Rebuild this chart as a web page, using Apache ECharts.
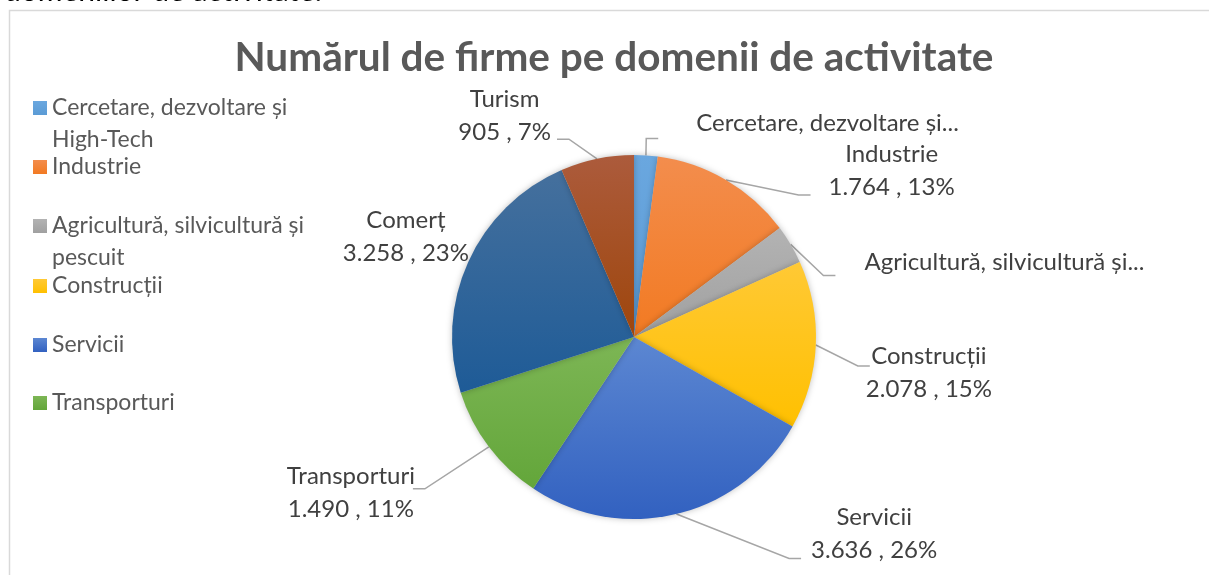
<!DOCTYPE html>
<html><head><meta charset="utf-8">
<script src="https://cdn.jsdelivr.net/npm/echarts@6/dist/echarts.min.js"></script>
<style>html,body{margin:0;padding:0;background:#fff;overflow:hidden}#c{width:1209px;height:575px}</style>
</head><body><div id="c"></div>
<script>
// ---- data ----
const categories = ['Cercetare, dezvoltare și High-Tech', 'Industrie', 'Agricultură, silvicultură și pescuit', 'Construcții', 'Servicii', 'Transporturi', 'Comerț', 'Turism'];
const values = [290, 1764, 480, 2078, 3636, 1490, 3258, 905];
const legendCategories = categories.slice(0, 6);
const titleText = 'Numărul de firme pe domenii de activitate';

// ---- style ----
const colorTop = ['#6AA7DF', '#F38D4D', '#B3B3B3', '#FFC935', '#5C87D2', '#7DB655', '#45709D', '#AC5B3C'];
const colorBottom = ['#5B9BD5', '#F27A22', '#A0A0A0', '#FFC000', '#3261C0', '#63A63A', '#1E5B97', '#9E460C'];
const labelShift = [[30, -12], [45, -16], [40, 24], [16, 27], [111, 0], [-39, 34], [38, -17], [-23, -23]];
const lineEnd = [[38, 15], [18, 24], [29, 13], [-4, -7], [10, 25], [-2, -4], [0, 0], [6, 23]]; // [gap to label edge, dy from label centre]
const showLine = [true, true, true, true, true, true, false, true];
const legendCenters = [108, 167, 226, 286, 345, 403];
const FONT = 'Lato';

function fmtNum(v) { return String(v).replace(/\B(?=(\d{3})+(?!\d))/g, '.'); }
function wrapName(n) { const i = n.lastIndexOf(' și '); return (n.length > 22 && i > 0) ? [n.slice(0, i + 3), n.slice(i + 4)] : [n]; }

const chart = echarts.init(document.getElementById('c'), null, { renderer: 'canvas' });

const legends = legendCategories.map((name, i) => {
  const multi = wrapName(name).length > 1;
  return {
    data: [name], left: 33, top: legendCenters[i] - (multi ? 48 : 16), orient: 'vertical', padding: 0,
    itemWidth: 14, itemHeight: 14, itemGap: 0, icon: 'rect', selectedMode: false,
    formatter: n => { const l = wrapName(n); return l.length > 1 ? '{sp| }\n{a|' + l[0] + '}\n{a|' + l[1] + '}' : '{a|' + l[0] + '}'; },
    textStyle: { fontFamily: FONT, fontSize: 23, color: '#595959', lineHeight: 32,
      rich: { sp: { fontSize: 23, lineHeight: 32, height: 32 }, a: { fontFamily: FONT, fontSize: 23, color: '#595959', lineHeight: 32 } } }
  };
});

const data = categories.map((name, i) => ({
  name, value: values[i],
  labelLine: { show: showLine[i] },
  itemStyle: { color: new echarts.graphic.LinearGradient(0, 0, 0, 1, [
    { offset: 0, color: colorTop[i] }, { offset: 1, color: colorBottom[i] }]) }
}));

chart.setOption({
  animation: false,
  title: { text: titleText, left: 609, top: 32, textAlign: 'center',
    textStyle: { fontFamily: FONT, fontWeight: 'bold', fontSize: 40.5, color: '#595959' } },
  legend: legends,
  graphic: [
    { type: 'rect', shape: { x: 9.5, y: 10.5, width: 1400, height: 700 }, style: { fill: 'none', stroke: '#D9D9D9', lineWidth: 1.5 }, silent: true },
    { type: 'text', x: 4, y: 6, style: { text: 'domeniilor de activitate.', fontFamily: FONT, fontSize: 30, fill: '#000', verticalAlign: 'bottom' }, silent: true }
  ],
  series: [{
    type: 'pie', center: [634, 337], radius: 182, startAngle: 90, clockwise: true,
    data,
    itemStyle: { shadowBlur: 6, shadowColor: 'rgba(0,0,0,0.25)' },
    label: {
      show: true, position: 'outside', fontFamily: FONT, fontSize: 24, color: '#404040', lineHeight: 33,
      formatter: p => {
        if (p.percent < 5) return '{a|' + wrapName(p.name)[0] + '...}';
        return '{a|' + p.name + '}\n{a|' + fmtNum(p.value) + ' , ' + Math.round(p.percent) + '%}';
      },
      rich: { a: { align: 'center', fontFamily: FONT, fontSize: 24, color: '#404040', lineHeight: 33 } }
    },
    labelLine: { show: true, length: 20, length2: 14, lineStyle: { color: '#A6A6A6', width: 1.5 } },
    labelLayout: p => {
      const i = p.dataIndex, s = labelShift[i], e = lineEnd[i];
      const r = p.labelRect, pts = p.labelLinePoints;
      const out = { dx: s[0], dy: s[1] };
      if (pts && pts.length && showLine[i]) {
        const x = r.x + s[0], y = r.y + s[1];
        const p0 = pts[0];
        const right = x + r.width / 2 > p0[0];
        const xe = right ? x - e[0] : x + r.width + e[0];
        const ye = y + r.height / 2 + e[1];
        out.labelLinePoints = [p0.slice(), [right ? xe - 12 : xe + 12, ye], [xe, ye]];
      }
      return out;
    },
    emphasis: { disabled: true }
  }]
});
</script></body></html>
